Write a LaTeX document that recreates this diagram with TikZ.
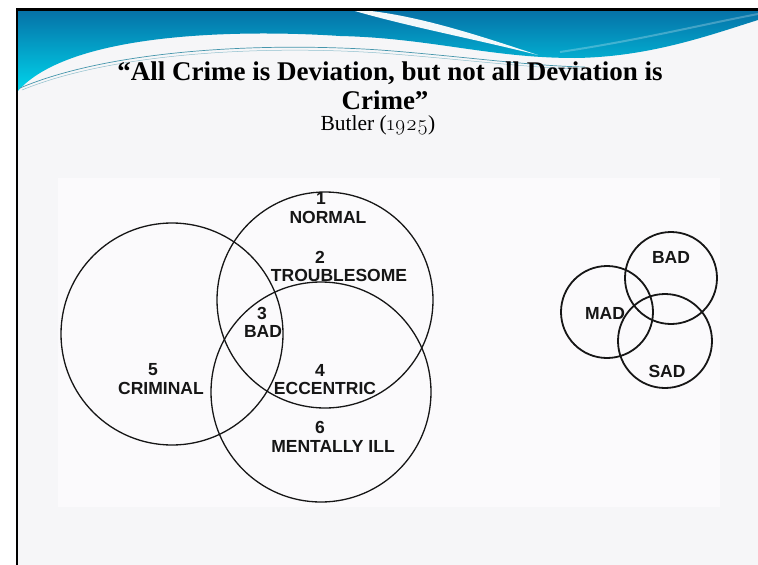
\documentclass[tikz,border=0pt]{standalone}
\usepackage{fontspec}
\setmainfont{Liberation Serif}
\setsansfont{Liberation Sans}
\newfontfamily\lmosf{Latin Modern Roman}[Numbers=OldStyle]
\definecolor{bandtop}{RGB}{6,112,166}
\definecolor{bandbot}{RGB}{0,214,236}
\definecolor{slidebg}{RGB}{246,246,248}
\definecolor{scanbg}{RGB}{251,250,252}
\definecolor{threadcol}{RGB}{70,150,172}
\definecolor{ink}{RGB}{22,22,22}
\begin{document}
\begin{tikzpicture}[x=1pt,y=-1pt,
  titletext/.style={font=\bfseries\fontsize{27}{32}\selectfont, inner sep=0pt, anchor=base, text=black},
  subtext/.style={font=\fontsize{21.5}{24}\selectfont, inner sep=0pt, anchor=base, text=black},
  vlabel/.style={font=\sffamily\bfseries\fontsize{17.5}{19}\selectfont, inner sep=0pt, text=ink},
  ring/.style={draw=ink, line width=1.3pt},
  smallring/.style={draw=ink, line width=1.8pt}]
\useasboundingbox (0,0) rectangle (758,565);
\fill[white] (0,0) rectangle (758,565);

% slide body and the scanned figure area
\fill[slidebg] (17,9) rectangle (758,565);
\fill[scanbg] (58,178) rectangle (720,507);

% blue header band
\shade[top color=bandtop, bottom color=bandbot]
  (17,9) -- (758,9) -- (758,20)
  .. controls (710,35) and (650,57) .. (575,58)
  .. controls (490,58) and (430,38) .. (340,36)
  .. controls (250,30) and (70,30) .. (17,92) -- cycle;
% white swoosh crossing the band
\fill[white, opacity=0.95]
  (348,9) .. controls (410,12) and (480,36) .. (538,55)
  .. controls (470,38) and (405,26) .. (348,9) -- cycle;
% faint light streak on the right
\draw[white, opacity=0.25, line width=2pt]
  (560,52) .. controls (640,40) and (700,25) .. (758,14);
% thin double thread under the band
\draw[threadcol, line width=0.7pt]
  (20,88) .. controls (110,50) and (260,42) .. (380,50)
  .. controls (460,56) and (530,66) .. (585,67);
\draw[threadcol!60, line width=0.5pt]
  (22,90) .. controls (112,53) and (262,45) .. (380,53)
  .. controls (460,59) and (530,68) .. (580,69);

% slide frame
\draw[black, line width=2.5pt] (17,565) -- (17,9.5) -- (758,9.5);

% title and citation
\node[titletext] (t1) at (390,80) {“All Crime is Deviation, but not all Deviation is};
\node[titletext] (t2) at (385,109) {Crime”};
\node[subtext] (t3) at (378,130) {Butler ({\lmosf 1925})};

% left diagram: three overlapping circles
\path[ring] (325,300) circle[radius=108pt];
\path[ring] (172,334) circle[radius=111pt];
\path[ring] (321,392) circle[radius=110pt];

\node[vlabel] (n1) at (321,198) {1};
\node[vlabel] (l1) at (328,217) {NORMAL};
\node[vlabel] (n2) at (320,257) {2};
\node[vlabel] (l2) at (339,275) {TROUBLESOME};
\node[vlabel] (n3) at (262,313) {3};
\node[vlabel] (l3) at (263,331) {BAD};
\node[vlabel] (n4) at (320,370) {4};
\node[vlabel] (l4) at (325,388) {ECCENTRIC};
\node[vlabel] (n5) at (153,370) {5};
\node[vlabel] (l5) at (161,388) {CRIMINAL};
\node[vlabel] (n6) at (320,427) {6};
\node[vlabel] (l6) at (333,446) {MENTALLY ILL};

% right diagram: mad, bad, sad
\path[smallring] (607,312) circle[radius=46pt];
\path[smallring] (671,278) circle[radius=46pt];
\path[smallring] (665,341) circle[radius=47pt];

\node[vlabel] (bad) at (671,257) {BAD};
\node[vlabel] (mad) at (605,313) {MAD};
\node[vlabel] (sad) at (667,371) {SAD};
\end{tikzpicture}
\end{document}
